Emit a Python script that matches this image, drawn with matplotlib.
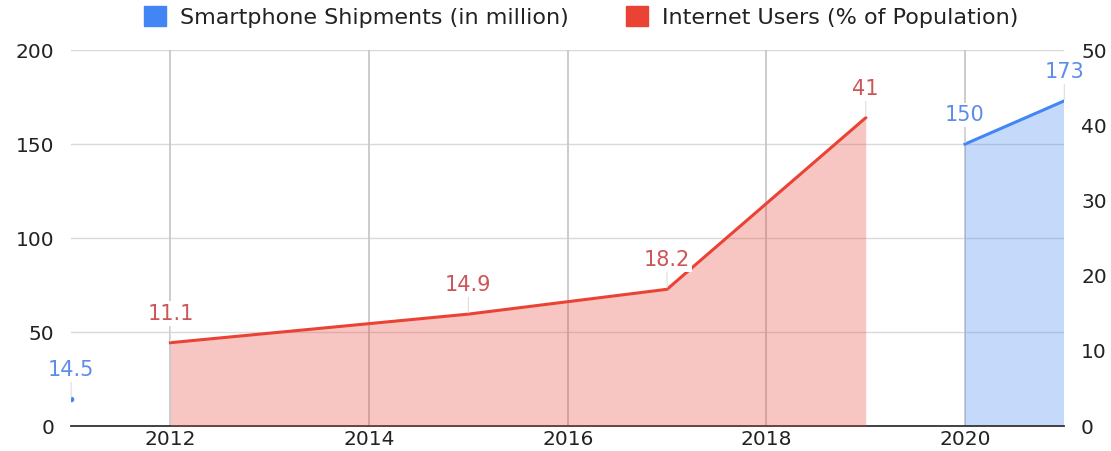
import matplotlib.pyplot as plt
import numpy as np
from matplotlib.patches import Patch

plt.rcParams["font.family"] = ["DejaVu Sans"]

years = [2011, 2012, 2013, 2014, 2015, 2016, 2017, 2018, 2019, 2020, 2021]
shipments = [14.5, None, None, None, None, None, None, None, None, 150, 173]
internet = [None, 11.1, None, None, 14.9, None, 18.2, None, 41, None, None]

BLUE = "#4285F4"
RED = "#EA4335"
BLUE_LBL = "#5B8DE8"
RED_LBL = "#CC5557"

fig = plt.figure(figsize=(11.11, 4.51), dpi=100)
ax = fig.add_axes([0.064, 0.055, 0.894, 0.834])
ax2 = ax.twinx()

# shipments: gaps break the line
ship = np.array([np.nan if v is None else v for v in shipments], dtype=float)
yrs = np.array(years, dtype=float)
ax.fill_between(yrs, 0, ship, color=BLUE, alpha=0.3, linewidth=0, zorder=2)
ax.plot(yrs, ship, color=BLUE, linewidth=2.2, zorder=3)
lone = [i for i, v in enumerate(shipments) if v is not None and
        (i == 0 or shipments[i - 1] is None) and
        (i == len(shipments) - 1 or shipments[i + 1] is None)]
for i in lone:
    ax.plot(years[i], shipments[i], marker="o", markersize=3, color=BLUE, zorder=3)

# internet users: missing years are bridged
iy = [y for y, v in zip(years, internet) if v is not None]
iv = [v for v in internet if v is not None]
ax2.fill_between(iy, 0, iv, color=RED, alpha=0.3, linewidth=0, zorder=2)
ax2.plot(iy, iv, color=RED, linewidth=2.2, zorder=3)

def label(axis, x, y, text, color):
    axis.annotate(text, (x, y), xytext=(0, 21), textcoords="offset points",
                  ha="center", va="center", fontsize=15, color=color,
                  bbox=dict(boxstyle="square,pad=0.1", fc="white", ec="none"),
                  arrowprops=dict(arrowstyle="-", color="#dddddd", lw=0.8,
                                  shrinkA=0, shrinkB=1), zorder=5)

for y, v in zip(years, shipments):
    if v is not None:
        label(ax, y, v, f"{v:g}", BLUE_LBL)
for y, v in zip(iy, iv):
    label(ax2, y, v, f"{v:g}", RED_LBL)

ax.set_xlim(2011, 2021)
ax.set_ylim(0, 200)
ax2.set_ylim(0, 50)
ax.set_yticks([0, 50, 100, 150, 200])
ax2.set_yticks([0, 10, 20, 30, 40, 50])
ax.set_xticks([2012, 2014, 2016, 2018, 2020])

ax.grid(axis="y", color="#d9d9d9", linewidth=1)
for x in [2012, 2014, 2016, 2018, 2020]:
    ax.axvline(x, color="#c8c8c8", linewidth=1.3, zorder=1)
ax.set_axisbelow(True)

for a in (ax, ax2):
    for s in a.spines.values():
        s.set_visible(False)
    a.tick_params(length=0, labelsize=14.5, colors="#222222")
ax.spines["bottom"].set_visible(True)
ax.spines["bottom"].set_color("#333333")
ax.spines["bottom"].set_linewidth(1.3)
ax.tick_params(axis="y", pad=12)
ax2.tick_params(axis="y", pad=12)
ax.tick_params(axis="x", pad=3)

handles = [Patch(color=BLUE, label="Smartphone Shipments (in million)"),
           Patch(color=RED, label="Internet Users (% of Population)")]
fig.legend(handles=handles, loc="upper center", bbox_to_anchor=(0.523, 1.03),
           ncol=2, frameon=False, fontsize=16, handlelength=1.0,
           handleheight=1.0, handletextpad=0.6, columnspacing=2.6,
           labelcolor="#222222")

fig.savefig("out.png", dpi=100)
